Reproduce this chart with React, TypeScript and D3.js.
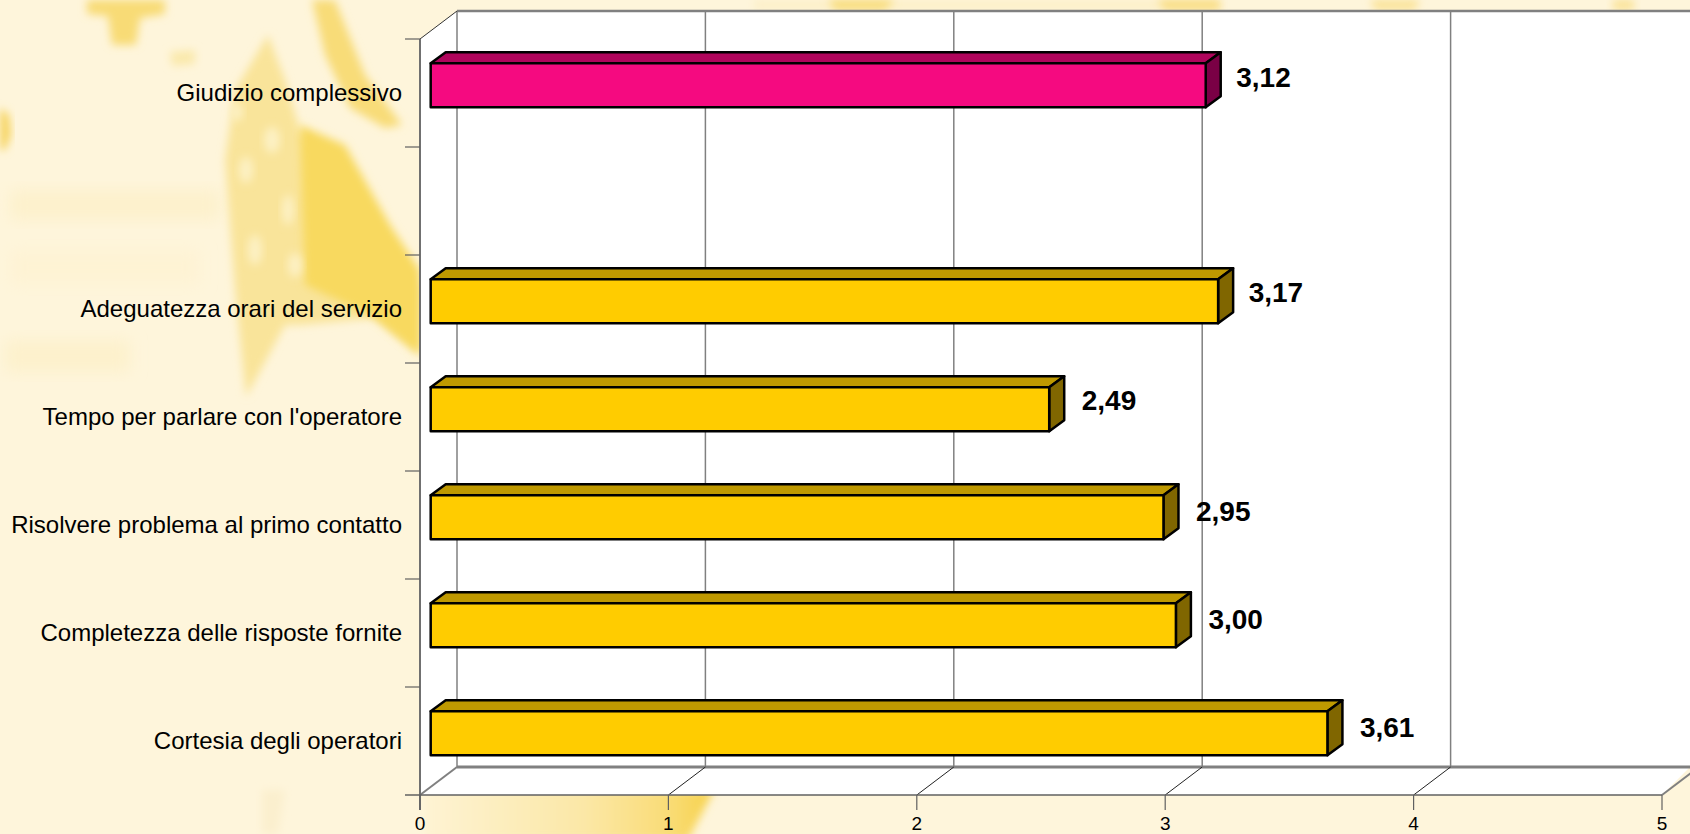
import React from "react";
import * as d3 from "d3";

// Customer-satisfaction scores, listed top to bottom; the empty row separates the overall score.
const categories = [
  "Giudizio complessivo",
  "",
  "Adeguatezza orari del servizio",
  "Tempo per parlare con l'operatore",
  "Risolvere problema al primo contatto",
  "Completezza delle risposte fornite",
  "Cortesia degli operatori",
];
const values: (number | null)[] = [3.12, null, 3.17, 2.49, 2.95, 3.0, 3.61];
const xTicks = [0, 1, 2, 3, 4, 5];

const yellowFaces = { front: "#FFCC00", top: "#BF9900", side: "#806600" };
const pinkFaces = { front: "#F50A80", top: "#B0055C", side: "#7A0045" };

const WIDTH = 1690;
const HEIGHT = 834;
const GRID = "#808080";

// Floor and wall offsets of the pseudo-3D box, and the depth of each bar.
const BOX_DX = 37;
const BOX_DY = -28;
const BAR_DX = 15;
const BAR_DY = -11;
const BAR_SHIFT_X = 10.7;
const BAR_SHIFT_Y = -7.7;

// Hand placement of the value labels, per row.
const labelNudgeX = [-2, 0, -2, 0, 0, 0, 0];
const labelNudgeY = [-1.5, 0, -3, -3, 0, 0, 0];

const x = d3.scaleLinear().domain([0, 5]).range([420, 1662]);
const y = d3
  .scaleBand<number>()
  .domain(d3.range(categories.length))
  .range([39, 795])
  .paddingInner(64 / 108)
  .paddingOuter(32 / 108);

const pts = (p: [number, number][]) => p.map((d) => d.join(",")).join(" ");

// Soft yellow motif of the slide background.
type Blob = { points: [number, number][]; fill: string; filter?: string };
const blobs: Blob[] = [
  // faint horizontal texture on the left
  { points: [[10, 190], [220, 190], [220, 220], [10, 220]], fill: "#FDF1CC" },
  { points: [[10, 250], [200, 250], [200, 285], [10, 285]], fill: "#FEF3D4" },
  { points: [[5, 340], [130, 340], [130, 372], [5, 372]], fill: "#FDF1CC" },
  // cross at the top
  { points: [[87, 0], [165, 0], [165, 14], [140, 18], [136, 45], [112, 45], [108, 16], [87, 14]], fill: "#F8DB76", filter: "url(#soft4)" },
  { points: [[170, 52], [195, 50], [195, 64], [172, 66]], fill: "#FAE9AC", filter: "url(#soft4)" },
  { points: [[0, 108], [9, 115], [11, 135], [5, 150], [0, 150]], fill: "#F6D460", filter: "url(#soft4)" },
  // diagonal streak
  { points: [[312, 0], [335, 0], [365, 75], [402, 125], [385, 128], [350, 108], [325, 55]], fill: "#F8DC78", filter: "url(#soft4)" },
  // large star, pale part
  { points: [[268, 35], [285, 80], [300, 130], [345, 170], [420, 290], [420, 355], [375, 318], [300, 325], [285, 325], [246, 397], [235, 290], [225, 160], [235, 90]], fill: "#F9E49A", filter: "url(#soft4)" },
  // large star, saturated part
  { points: [[300, 125], [345, 145], [390, 225], [420, 270], [420, 355], [372, 316], [305, 285]], fill: "#F8D95E", filter: "url(#soft4)" },
  // bottom and top edges
  { points: [[262, 790], [285, 790], [278, 834], [262, 834]], fill: "#FBEFCE", filter: "url(#soft4)" },
  { points: [[754, 0], [1220, 0], [1220, 10], [754, 10]], fill: "#FDEFC8", filter: "url(#soft4)" },
  { points: [[828, 0], [895, 0], [885, 10], [835, 10]], fill: "#F8DC78", filter: "url(#soft4)" },
  { points: [[1157, 0], [1220, 0], [1220, 10], [1165, 10]], fill: "#F9DD80", filter: "url(#soft4)" },
  { points: [[1370, 0], [1420, 0], [1415, 10], [1375, 10]], fill: "#FAE294", filter: "url(#soft4)" },
  { points: [[1613, 0], [1634, 0], [1634, 10], [1613, 10]], fill: "#FAE294", filter: "url(#soft4)" },
];
const holes: [number, number, number, number][] = [
  [237, 112, 6, 9],
  [272, 140, 8, 13],
  [246, 170, 7, 13],
  [288, 210, 6, 15],
  [255, 250, 7, 15],
  [295, 265, 7, 12],
];

const font = "'Liberation Sans', Arial, sans-serif";

export default function App() {
  const x0 = x(0);
  const x5 = x(5);
  const bottom = y.range()[1];
  const top = y.range()[0];

  return (
    <svg
      width={WIDTH}
      height={HEIGHT}
      viewBox={`0 0 ${WIDTH} ${HEIGHT}`}
      style={{ position: "fixed", left: 0, top: 0, display: "block" }}
    >
      <defs>
        <filter id="soft8" x="-30%" y="-30%" width="160%" height="160%">
          <feGaussianBlur stdDeviation="8" />
        </filter>
        <filter id="soft4" x="-30%" y="-60%" width="160%" height="220%">
          <feGaussianBlur stdDeviation="4.5" />
        </filter>
        <linearGradient id="bottomGlow" x1="430" x2="712" y1="0" y2="0" gradientUnits="userSpaceOnUse">
          <stop offset="0" stopColor="#FEF3D2" />
          <stop offset="0.55" stopColor="#FBE7A6" />
          <stop offset="0.85" stopColor="#F9DC76" />
          <stop offset="1" stopColor="#F7D24C" />
        </linearGradient>
      </defs>

      <rect width={WIDTH} height={HEIGHT} fill="#FEF5DB" />
      {blobs.map((b, i) => (
        <polygon key={i} points={pts(b.points)} fill={b.fill} filter={b.filter ?? "url(#soft8)"} />
      ))}
      {holes.map(([cx, cy, rx, ry], i) => (
        <ellipse key={i} cx={cx} cy={cy} rx={rx} ry={ry} fill="#FDF1C4" filter="url(#soft4)" />
      ))}
      <polygon
        points={pts([[425, 790], [714, 790], [688, 840], [425, 840]])}
        fill="url(#bottomGlow)"
        filter="url(#soft4)"
      />

      {/* White walls and floor of the box */}
      <polygon
        points={pts([
          [x0, top],
          [x0 + BOX_DX, top + BOX_DY],
          [WIDTH, top + BOX_DY],
          [WIDTH, bottom + BOX_DY],
          [x5, bottom],
          [x0, bottom],
        ])}
        fill="#fff"
      />

      {/* Back wall gridlines */}
      {xTicks.map((t) => (
        <line
          key={t}
          x1={x(t) + BOX_DX}
          x2={x(t) + BOX_DX}
          y1={top + BOX_DY}
          y2={bottom + BOX_DY}
          stroke={GRID}
          strokeWidth={1.5}
        />
      ))}
      <line x1={x0 + BOX_DX} x2={WIDTH} y1={top + BOX_DY} y2={top + BOX_DY} stroke={GRID} strokeWidth={2.5} />
      <line x1={x0 + BOX_DX} x2={WIDTH} y1={bottom + BOX_DY} y2={bottom + BOX_DY} stroke={GRID} strokeWidth={3} />

      {/* Floor diagonals */}
      {xTicks.map((t) => {
        const outer = t === 0 || t === 5;
        return (
          <line
            key={t}
            x1={x(t)}
            y1={bottom}
            x2={x(t) + BOX_DX}
            y2={bottom + BOX_DY}
            stroke={outer ? GRID : "#222"}
            strokeWidth={outer ? 2 : 1}
          />
        );
      })}
      <line x1={x0} y1={top} x2={x0 + BOX_DX} y2={top + BOX_DY} stroke="#333" strokeWidth={1} />

      {/* Front axes and ticks */}
      <line x1={x0} x2={x0} y1={top} y2={bottom + 15} stroke="#707070" strokeWidth={2} />
      <line x1={x0 - 15} x2={x5} y1={bottom} y2={bottom} stroke="#606060" strokeWidth={1.5} />
      {y.domain().map((i) => (
        <line
          key={i}
          x1={x0 - 15}
          x2={x0}
          y1={top + y.step() * i}
          y2={top + y.step() * i}
          stroke="#606060"
          strokeWidth={1.2}
        />
      ))}
      {xTicks.map((t) => (
        <g key={t}>
          <line x1={x(t)} x2={x(t)} y1={bottom} y2={bottom + 15} stroke="#606060" strokeWidth={1.2} />
          <text x={x(t)} y={829.5} textAnchor="middle" fontFamily={font} fontSize={19} fill="#000">
            {t}
          </text>
        </g>
      ))}

      {/* Category labels */}
      {categories.map((c, i) =>
        c ? (
          <text
            key={c}
            x={402}
            y={top + y.step() * (i + 0.5) + 8}
            textAnchor="end"
            fontFamily={font}
            fontSize={24}
            fill="#000"
          >
            {c}
          </text>
        ) : null
      )}

      {/* Extruded bars */}
      {values.map((v, i) => {
        if (v === null) return null;
        const faces = i === 0 ? pinkFaces : yellowFaces;
        const l = x0 + BAR_SHIFT_X;
        const r = x(v) + BAR_SHIFT_X;
        const t = (y(i) as number) + BAR_SHIFT_Y;
        const b = t + y.bandwidth();
        return (
          <g key={i} stroke="#000" strokeWidth={2.5} strokeLinejoin="round">
            <polygon points={pts([[l, t], [l + BAR_DX, t + BAR_DY], [r + BAR_DX, t + BAR_DY], [r, t]])} fill={faces.top} />
            <polygon points={pts([[r, t], [r + BAR_DX, t + BAR_DY], [r + BAR_DX, b + BAR_DY], [r, b]])} fill={faces.side} />
            <rect x={l} y={t} width={r - l} height={b - t} fill={faces.front} />
            <text
              x={r + 32.5 + labelNudgeX[i]}
              y={(t + b) / 2 + 3.5 + labelNudgeY[i]}
              fontFamily={font}
              fontSize={28}
              fontWeight="bold"
              fill="#000"
              stroke="none"
            >
              {v.toFixed(2).replace(".", ",")}
            </text>
          </g>
        );
      })}
    </svg>
  );
}
